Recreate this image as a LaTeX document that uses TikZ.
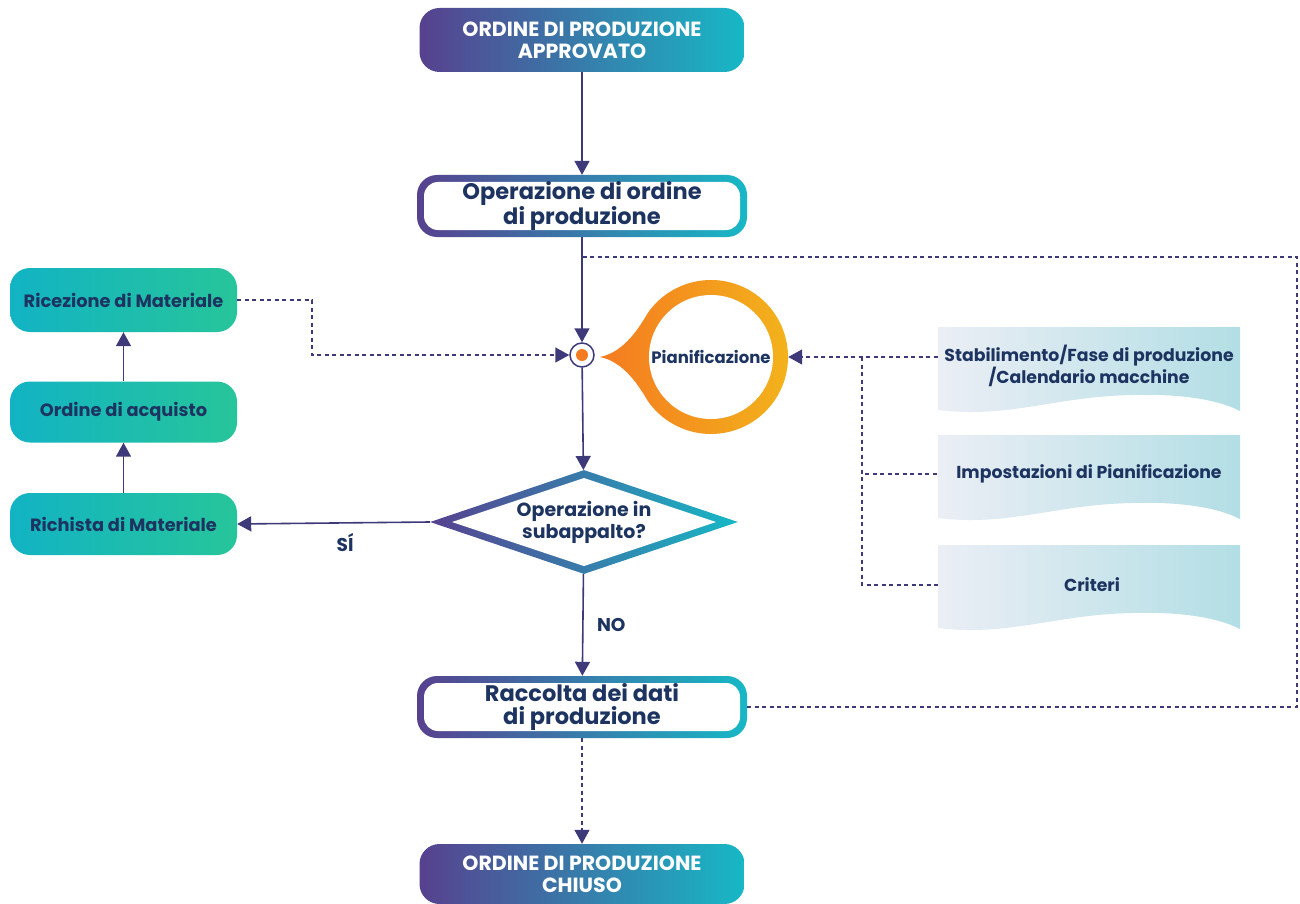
\documentclass[tikz,border=0pt]{standalone}
\usepackage{fontspec}
\setmainfont{Poppins}
\usetikzlibrary{arrows.meta,shapes.geometric,calc}
\definecolor{cpurp}{HTML}{57418F}
\definecolor{cteal}{HTML}{17B8C6}
\definecolor{cteal2}{HTML}{12B3C4}
\definecolor{cgreen}{HTML}{27C59A}
\definecolor{navy}{HTML}{1D3461}
\definecolor{arrowc}{HTML}{3E3A7A}
\definecolor{corange}{HTML}{F47B20}
\definecolor{cyellow}{HTML}{F3B51B}
\definecolor{docl}{HTML}{EBEEF5}
\definecolor{docr}{HTML}{B3DEE5}
\tikzset{
 gradbox/.style={rounded corners=20pt, minimum width=325pt, minimum height=64pt, left color=cpurp, right color=cteal, text=white, font=\bfseries\fontsize{20.5}{22}\selectfont, align=center, inner sep=0},
 outbox/.style={rounded corners=20pt, minimum width=330pt, minimum height=62pt, inner sep=0, left color=cpurp, right color=cteal, text=navy, font=\bfseries\fontsize{22.5}{23}\selectfont, align=center,
   path picture={\fill[white, rounded corners=14pt] ($(path picture bounding box.south west)+(7pt,7pt)$) rectangle ($(path picture bounding box.north east)-(7pt,7pt)$);}},
 greenbox/.style={rounded corners=20pt, minimum width=227pt, minimum height=62pt, inner sep=0, left color=cteal2, right color=cgreen, text=navy, font=\bfseries\fontsize{17.8}{20}\selectfont},
 arr/.style={draw=arrowc, line width=1.6pt, -{Triangle[width=15pt,length=14pt]}},
 dline/.style={draw=arrowc, line width=1.5pt, dash pattern=on 4pt off 3.5pt},
 darr/.style={dline, -{Triangle[width=15pt,length=14pt]}},
 doctext/.style={text=navy, font=\bfseries\fontsize{17.3}{21}\selectfont, align=center, minimum width=302pt, minimum height=78pt, inner sep=0},
 lbl/.style={text=navy, font=\bfseries\fontsize{18.5}{20}\selectfont},
}
\begin{document}
\begin{tikzpicture}[x=1pt,y=-1pt]
\useasboundingbox (0,0) rectangle (1300,904);
\fill[white] (0,0) rectangle (1300,904);

% documents (right)
\shade[left color=docl, right color=docr] (938,327) -- (1240,327) -- (1240,411) .. controls (1215,398) and (1170,392) .. (1110,396) .. controls (1050,400) and (1000,418) .. (938,410) -- cycle;
\shade[left color=docl, right color=docr] (938,435) -- (1240,435) -- (1240,519) .. controls (1215,506) and (1170,500) .. (1110,504) .. controls (1050,508) and (1000,526) .. (938,518) -- cycle;
\shade[left color=docl, right color=docr] (938,545) -- (1240,545) -- (1240,629) .. controls (1215,616) and (1170,610) .. (1110,614) .. controls (1050,618) and (1000,636) .. (938,628) -- cycle;
\node[doctext] (d1) at (1089,366) {Stabilimento/Fase di produzione\\/Calendario macchine};
\node[doctext] (d2) at (1089,474) {Impostazioni di Pianificazione};
\node[doctext] (d3) at (1092,585) {Criteri};

% Pianificazione teardrop
\shade[left color=corange, right color=cyellow] (600,357) .. controls (625,352) and (640,326) .. ($(711,357)+(145:77pt)$) arc[start angle=145, end angle=-145, radius=77pt] .. controls (640,388) and (625,362) .. (600,357) -- cycle;
\fill[white] (711,357) circle (62pt);
\node[circle, minimum size=154pt, inner sep=0, text=navy, font=\bfseries\fontsize{16.5}{18}\selectfont] (plan) at (711,357) {Pianificazione};

% main column
\node[gradbox] (approv) at (582,40) {ORDINE DI PRODUZIONE\\APPROVATO};
\node[outbox] (op) at (582,206) {Operazione di ordine\\di produzione};
\node[circle, draw=arrowc, line width=1.5pt, fill=white, minimum size=24pt, inner sep=0] (j) at (582,355) {};
\fill[corange] (j.center) circle (6pt);
\node[diamond, aspect=3, minimum width=308pt, minimum height=104pt, inner sep=0, left color=cpurp, right color=cteal, text=navy, font=\bfseries\fontsize{19}{22}\selectfont, align=center,
  path picture={\fill[white] ($(path picture bounding box.center)+(-132pt,0pt)$) -- ($(path picture bounding box.center)+(0pt,44pt)$) -- ($(path picture bounding box.center)+(132pt,0pt)$) -- ($(path picture bounding box.center)+(0pt,-44pt)$) -- cycle;}] (dec) at (584,522) {Operazione in\\subappalto?};
\node[outbox] (racc) at (582,707) {Raccolta dei dati\\di produzione};
\node[gradbox, minimum height=60pt] (chiuso) at (582,874) {ORDINE DI PRODUZIONE\\CHIUSO};

% left column
\node[greenbox, minimum height=64pt] (ric) at (123.5,300) {Ricezione di Materiale};
\node[greenbox, minimum height=61pt] (oda) at (123.5,412) {Ordine di acquisto};
\node[greenbox] (rich) at (123.5,524) {Richista di Materiale};

% connectors
\draw[arr] (approv) -- (op);
\draw[arr] (op) -- (j);
\draw[arr] (j) -- (dec);
\draw[arr] (dec.west) -- (rich.east) node[pos=0.44, below=6pt, lbl] {SÍ};
\draw[arr] (dec) -- (racc) node[midway, right=10pt, lbl] {NO};
\draw[darr] (racc) -- (chiuso);
\draw[arr] (rich) -- (oda);
\draw[arr] (oda) -- (ric);
\draw[darr] (ric.east) -- ++(75,0) |- (j.west);
\draw[darr] (d1.west |- plan.east) -- (plan.east);
\coordinate (bus) at (862,357);
\draw[dline] (bus) |- (d2.west);
\draw[dline] (bus) |- (d3.west);
\coordinate (corner) at (1297,257);
\draw[dline] (racc.east) -| (corner) -- (op.south |- corner);
\end{tikzpicture}
\end{document}
